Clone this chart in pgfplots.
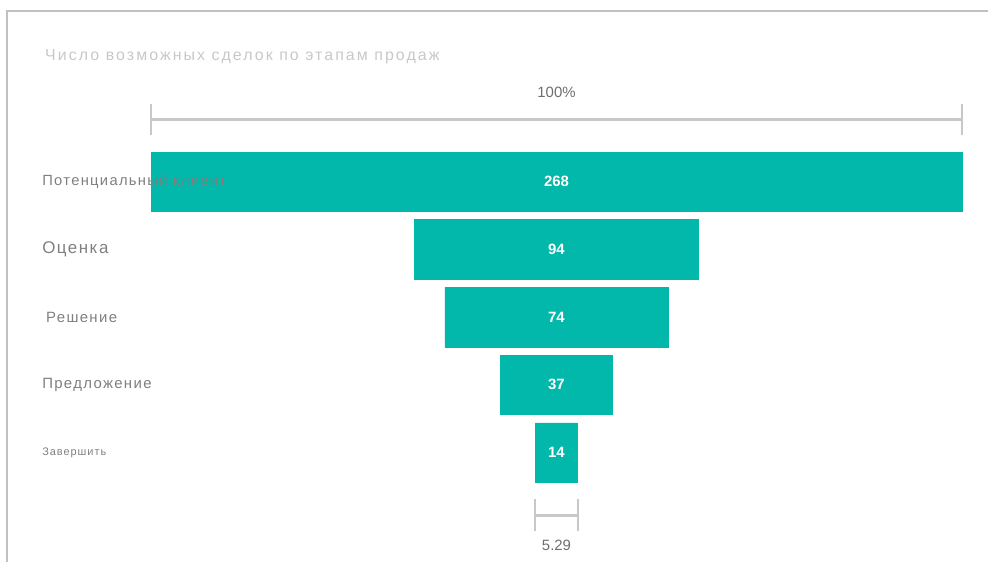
\documentclass[border=0pt]{standalone}
\usepackage{fontspec}
\setmainfont{Liberation Sans}
\newfontfamily\spaced[LetterSpace=13]{Liberation Sans}
\newfontfamily\labfont[LetterSpace=9]{Liberation Sans}
\usepackage{pgfplots}
\usepackage{pgfplotstable}
\pgfplotsset{compat=1.18}

\definecolor{funnel}{HTML}{01B8AA}
\definecolor{labelgray}{HTML}{7F7F7F}
\definecolor{numgray}{HTML}{6E6E6E}
\definecolor{titlegray}{HTML}{C8C8C8}
\definecolor{bracket}{HTML}{C8C8C8}
\definecolor{framegray}{HTML}{C0C0C0}

% stage index, number of deals
\pgfplotstableread{
idx v
0 268
1 94
2 74
3 37
4 14
}\funnel

\begin{document}
\begin{tikzpicture}
\begin{axis}[
  width=989bp, height=563bp, scale only axis,
  xmin=-183.84, xmax=142.58,
  ymin=-2.6863, ymax=5.6236,
  y dir=reverse,
  clip=false,
  axis on top,
  axis line style={draw=none},
  major tick length=0pt,
  xtick=\empty,
  ytick={0,1,2,3,4},
  yticklabels={
    {\fontsize{14.8}{16}\selectfont Потенциальный клиент},
    {\fontsize{17}{20}\selectfont\raisebox{-3bp}{Оценка}},
    {\fontsize{15}{17}\selectfont\hspace{4bp}Решение},
    {\fontsize{15}{17}\selectfont Предложение},
    {\fontsize{11}{12}\selectfont Завершить}},
  yticklabel style={anchor=west, xshift=42bp, inner sep=0pt, text=labelgray,
    font=\labfont},
  title={\spaced Число возможных сделок по этапам продаж},
  title style={at={(axis description cs:0.0455,0.888)}, anchor=west,
    inner sep=0pt, text=titlegray, font=\fontsize{16}{18}\selectfont},
  /pgf/number format/assume math mode=true,
]
\path (rel axis cs:0,0) rectangle (rel axis cs:1,1);
% frame
\addplot [framegray, line width=2bp] coordinates {(-181.53,5.6236) (-181.53,-2.524) (142.58,-2.524)};

% funnel bars, drawn as two halves about the centre
\addplot [xbar, bar width=0.879, bar shift=0, fill=funnel, draw=funnel, line width=0.5bp]
  table [x expr=\thisrow{v}/2-0.08, y=idx] \funnel;
\addplot [xbar, bar width=0.879, bar shift=0, fill=funnel, draw=funnel, line width=0.5bp]
  table [x expr=-\thisrow{v}/2+0.08, y=idx] \funnel;

% values
\addplot [draw=none, mark=none, nodes near coords, point meta=explicit,
  every node near coord/.append style={anchor=center, text=white,
    font=\bfseries\fontsize{15}{15}\selectfont}]
  table [x expr=0, y=idx, meta=v] \funnel;

% top bracket
\addplot [bracket, line width=3bp] coordinates {(-134,-0.915) (134,-0.915)};
\addplot [bracket, line width=2bp] coordinates {(-134,-1.151) (-134,-0.694)};
\addplot [bracket, line width=2bp] coordinates {(134,-1.151) (134,-0.694)};
\addplot [draw=none, mark=none, nodes near coords={100\%},
  every node near coord/.append style={anchor=center, text=numgray,
    font=\fontsize{15}{15}\selectfont}]
  coordinates {(0,-1.328)};

% bottom bracket
\addplot [bracket, line width=3bp] coordinates {(-7,4.930) (7,4.930)};
\addplot [bracket, line width=2bp] coordinates {(-7,4.694) (-7,5.166)};
\addplot [bracket, line width=2bp] coordinates {(7,4.694) (7,5.166)};
\addplot [draw=none, mark=none, nodes near coords={5.29},
  every node near coord/.append style={anchor=center, text=numgray,
    font=\fontsize{15}{15}\selectfont}]
  coordinates {(0,5.373)};
\end{axis}
\end{tikzpicture}
\end{document}
